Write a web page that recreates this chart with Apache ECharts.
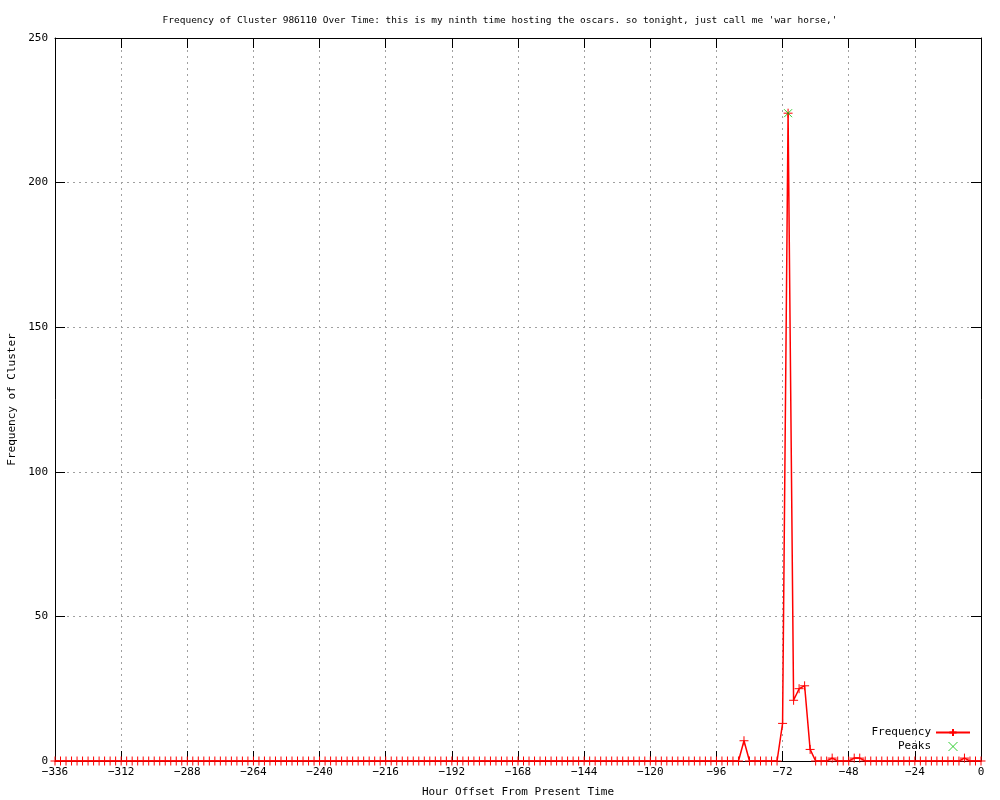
<!DOCTYPE html>
<html>
<head>
<meta charset="utf-8">
<script src="https://cdn.jsdelivr.net/npm/echarts@6/dist/echarts.min.js"></script>
<style>html,body{margin:0;padding:0;background:#fff}#c{width:1000px;height:800px}</style>
</head>
<body>
<div id="c"></div>
<script>
const titleText = "Frequency of Cluster 986110 Over Time: this is my ninth time hosting the oscars. so tonight, just call me 'war horse,'";
const xTicks = [-336, -312, -288, -264, -240, -216, -192, -168, -144, -120, -96, -72, -48, -24, 0];
const yTicks = [0, 50, 100, 150, 200, 250];
const hourStart = -336;
const hourStep = 2;
// frequency per 2-hour bin, from -336 to 0
const frequency = [
  0,0,0,0,0,0,0,0,0,0,
  0,0,0,0,0,0,0,0,0,0,
  0,0,0,0,0,0,0,0,0,0,
  0,0,0,0,0,0,0,0,0,0,
  0,0,0,0,0,0,0,0,0,0,
  0,0,0,0,0,0,0,0,0,0,
  0,0,0,0,0,0,0,0,0,0,
  0,0,0,0,0,0,0,0,0,0,
  0,0,0,0,0,0,0,0,0,0,
  0,0,0,0,0,0,0,0,0,0,
  0,0,0,0,0,0,0,0,0,0,
  0,0,0,0,0,0,0,0,0,0,
  0,0,0,0,0,7,0,0,0,0,
  0,0,13,224,21,25,26,4,0,0,
  0,1,0,0,0,1,1,0,0,0,
  0,0,0,0,0,0,0,0,0,0,
  0,0,0,0,0,1,0,0,0
];
const peakHours = [-70];
const peakValues = [224];

const hours = frequency.map((_, i) => hourStart + i * hourStep);
const freqData = hours.map((h, i) => [h, frequency[i]]);
const peakData = peakHours.map((h, i) => [h, peakValues[i]]);

const font = "'DejaVu Sans Mono', monospace";
const plusPath = 'path://M0,-5L0,5M-5,0L5,0';
const xPath = 'path://M-5,-5L5,5M-5,5L5,-5';

const chart = echarts.init(document.getElementById('c'), null, {renderer: 'canvas'});
const gridLine = {show: true, lineStyle: {color: '#a0a0a0', type: [2, 4], width: 1}};
chart.setOption({
  animation: false,
  backgroundColor: '#fff',
  title: {
    text: titleText, left: 'center', top: 11,
    textStyle: {fontFamily: font, fontSize: 9.5, fontWeight: 'normal', color: '#000'}
  },
  grid: {left: 55, right: 19, top: 38, bottom: 39, containLabel: false, outerBoundsMode: 'none'},
  legend: {
    right: 24, top: 722, orient: 'vertical', align: 'right',
    itemWidth: 34, itemHeight: 9, itemGap: 3,
    textStyle: {fontFamily: font, fontSize: 11, color: '#000'},
    data: [
      {name: 'Frequency'},
      {name: 'Peaks', icon: xPath, itemStyle: {color: 'transparent', borderColor: '#00c000', borderWidth: 1}}
    ]
  },
  xAxis: [{
    type: 'value', min: -336, max: 0, interval: 24,
    name: 'Hour Offset From Present Time', nameLocation: 'middle', nameGap: 26,
    nameTextStyle: {fontFamily: font, fontSize: 11, color: '#000'},
    axisLine: {show: true, onZero: false, lineStyle: {color: '#000', width: 1}},
    axisTick: {show: true, inside: true, length: 10, lineStyle: {color: '#000'}},
    axisLabel: {fontFamily: font, fontSize: 11, color: '#000', margin: 6,
      formatter: v => xTicks.includes(v) ? String(v).replace('-', '\u2212') : ''},
    splitLine: gridLine
  }, {
    type: 'value', min: -336, max: 0, interval: 24, position: 'top',
    axisLine: {show: true, onZero: false, lineStyle: {color: '#000', width: 1}},
    axisTick: {show: true, inside: true, length: 10, lineStyle: {color: '#000'}},
    axisLabel: {show: false}, splitLine: {show: false}
  }],
  yAxis: [{
    type: 'value', min: 0, max: 250, interval: 50,
    name: 'Frequency of Cluster', nameLocation: 'middle', nameGap: 36, nameRotate: 90,
    nameTextStyle: {fontFamily: font, fontSize: 11, color: '#000'},
    axisLine: {show: true, onZero: false, lineStyle: {color: '#000', width: 1}},
    axisTick: {show: true, inside: true, length: 10, lineStyle: {color: '#000'}},
    axisLabel: {fontFamily: font, fontSize: 11, color: '#000', margin: 7,
      formatter: v => yTicks.includes(v) ? String(v) : ''},
    splitLine: gridLine
  }, {
    type: 'value', min: 0, max: 250, interval: 50, position: 'right',
    axisLine: {show: true, onZero: false, lineStyle: {color: '#000', width: 1}},
    axisTick: {show: true, inside: true, length: 10, lineStyle: {color: '#000'}},
    axisLabel: {show: false}, splitLine: {show: false}
  }],
  series: [{
    name: 'Frequency', type: 'line', data: freqData,
    symbol: plusPath, symbolSize: 9, showAllSymbol: true,
    lineStyle: {color: '#ff0000', width: 1.5},
    itemStyle: {color: 'transparent', borderColor: '#ff0000', borderWidth: 1},
    z: 3
  }, {
    name: 'Peaks', type: 'scatter', data: peakData,
    symbol: xPath, symbolSize: 8,
    itemStyle: {color: 'transparent', borderColor: '#00c000', borderWidth: 1},
    z: 4
  }]
});
</script>
</body>
</html>
